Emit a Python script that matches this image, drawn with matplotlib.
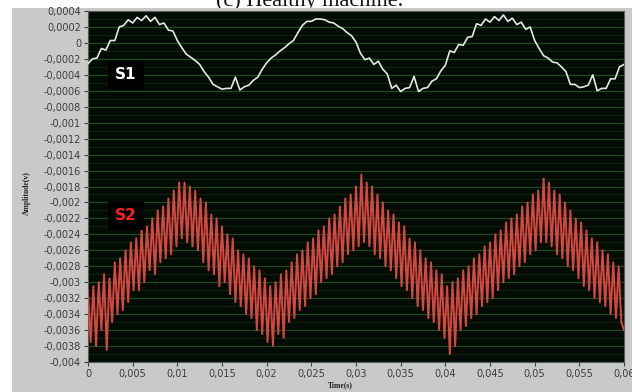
import numpy as np
import matplotlib
matplotlib.use("Agg")
import matplotlib.pyplot as plt
from matplotlib.patches import Rectangle
from matplotlib.ticker import FuncFormatter, FixedLocator

# sample spacing of the two traces (s)
s1_dt = 0.0005
s2_dt = 0.0003

# amplitudes in units of 0.1 mV
s1_values = [
    -2.6, -2.0, -1.9, -0.7, -0.9, 0.3, 0.3, 2.0, 2.2, 2.9,
    2.5, 3.2, 2.8, 3.4, 2.7, 3.2, 2.3, 2.5, 1.6, 1.5,
    0.3, -0.6, -1.4, -1.8, -2.2, -2.7, -3.6, -4.3, -5.2, -5.5,
    -5.8, -5.7, -5.7, -4.3, -5.9, -5.5, -5.3, -4.7, -4.3, -3.3,
    -2.5, -1.9, -1.5, -1.0, -0.6, -0.1, 0.3, 1.3, 2.2, 2.7,
    2.7, 3.0, 3.0, 2.9, 2.6, 2.5, 2.1, 1.8, 1.3, 0.9,
    0.1, -1.3, -2.1, -1.9, -2.7, -2.3, -3.3, -3.9, -5.7, -5.3,
    -6.1, -5.7, -5.6, -4.2, -6.1, -5.7, -5.6, -4.8, -4.5, -3.5,
    -2.8, -1.0, -1.2, -0.2, -0.3, 0.7, 0.8, 2.4, 2.2, 3.0,
    2.6, 3.3, 2.8, 3.5, 2.7, 3.1, 2.3, 2.6, 1.7, 2.0,
    0.3, -0.7, -1.6, -1.9, -2.4, -2.5, -3.0, -3.6, -5.2, -5.2,
    -5.6, -5.5, -5.3, -4.0, -6.0, -5.7, -5.7, -4.5, -4.5, -3.0,
    -2.7,
]

s2_values = [
    -31, -37.5, -30.5, -38, -30, -36, -29, -38.5, -29.5, -35,
    -27.5, -34, -27, -33.5, -26, -32.5, -25, -31, -24.5, -31,
    -23.5, -30, -23, -28.5, -22, -29, -21, -27.5, -20.5, -27,
    -19.5, -26.5, -18.5, -25.5, -17.5, -24.5, -17.5, -25, -18, -25.5,
    -18.5, -26, -19.5, -27.5, -20, -28.5, -21.5, -29, -22, -30.5,
    -23, -30, -24, -31.5, -24.5, -32.5, -26, -33, -26.5, -34,
    -27, -34.5, -28, -36, -28.5, -36.5, -29.5, -37.5, -30.5, -38,
    -30, -36.5, -29, -37, -28.5, -35, -27.5, -34.5, -26.5, -33.5,
    -26, -33, -25, -32, -24.5, -31.5, -23.5, -30, -23, -29.5,
    -22, -29, -21.5, -28, -20.5, -27.5, -19.5, -26.5, -19, -26,
    -18, -25.5, -16.5, -25, -17.5, -25.5, -18, -26.5, -19, -27,
    -20, -28, -21, -28.5, -21.5, -29.5, -22.5, -30.5, -23, -31,
    -24.5, -32, -25, -33, -26, -33.5, -27, -34.5, -27.5, -35,
    -28.5, -36, -29, -37, -30.5, -39, -30, -38, -29.5, -36,
    -28.5, -35.5, -28, -34.5, -27, -34, -26.5, -33, -25.5, -32.5,
    -25, -32, -24, -31, -23.5, -30, -22.5, -29.5, -22, -29,
    -21.5, -28, -20.5, -27.5, -20, -26.5, -19, -26, -18.5, -25,
    -17, -25, -17.5, -25.5, -18.5, -26.5, -19, -27, -20, -28,
    -21, -28.5, -22, -29.5, -22.5, -30.5, -23.5, -31, -24.5, -32,
    -25, -32.5, -26, -33, -26.5, -34, -27.5, -34.5, -28, -35,
    -36,
]

x_ticks = [0, 0.005, 0.01, 0.015, 0.02, 0.025, 0.03, 0.035, 0.04, 0.045, 0.05, 0.055, 0.06]
y_ticks = [round(-0.004 + 0.0002 * i, 4) for i in range(23)]


def comma(v, pos=None):
    s = f"{v:.4f}".rstrip("0").rstrip(".")
    if s in ("-0", ""):
        s = "0"
    return s.replace(".", ",")


def main():
    fig = plt.figure(figsize=(6.32, 3.92), dpi=100)
    fig.patch.set_facecolor("white")

    # grey front panel behind the graph
    fig.patches.append(Rectangle((12 / 632, 0), 1, 1 - 8 / 392, transform=fig.transFigure,
                                 facecolor="#c9c9c9", edgecolor="none", zorder=-10))
    fig.text(0.49, 1 - 6 / 392, "(c) Healthy machine.", ha="center", va="baseline",
             fontsize=16, family="Liberation Serif", color="#111111", zorder=-20)

    ax = fig.add_axes([88 / 632, 30 / 392, 536 / 632, 351 / 392])
    ax.set_facecolor("#030c04")

    t1 = np.arange(len(s1_values)) * s1_dt
    t2 = np.arange(len(s2_values)) * s2_dt
    ax.plot(t1, np.array(s1_values) * 1e-4, color="#e6e6e6", lw=1.2, zorder=3)
    ax.plot(t2, np.array(s2_values) * 1e-4, color="#d6473f", lw=1.4, zorder=3)

    ax.set_xlim(0, 0.06)
    ax.set_ylim(-0.004, 0.0004)

    ax.xaxis.set_major_locator(FixedLocator(x_ticks))
    ax.yaxis.set_major_locator(FixedLocator(y_ticks))
    ax.yaxis.set_minor_locator(FixedLocator([-0.0039 + 0.0002 * i for i in range(22)]))
    ax.xaxis.set_major_formatter(FuncFormatter(comma))
    ax.yaxis.set_major_formatter(FuncFormatter(comma))

    ax.grid(axis="y", which="major", color="#1b4a1e", lw=0.9)
    ax.grid(axis="y", which="minor", color="#0c230f", lw=0.8)
    ax.set_axisbelow(True)

    ax.tick_params(axis="both", which="major", labelsize=7, colors="#3c3c3c",
                   length=3, width=0.8, pad=2)
    ax.tick_params(axis="y", which="minor", length=0)
    for sp in ax.spines.values():
        sp.set_color("#5a5a5a")
        sp.set_linewidth(0.8)

    ax.set_xlabel("Time(s)", fontsize=5.5, family="Liberation Serif", fontweight="bold",
                  color="#222222")
    ax.set_ylabel("Amplitude(v)", fontsize=5.5, family="Liberation Serif", fontweight="bold",
                  color="#222222")
    ax.xaxis.set_label_coords(0.47, -0.055)
    ax.yaxis.set_label_coords(-0.107, 0.48)

    box = dict(boxstyle="square,pad=0.45", facecolor="black", edgecolor="none")
    ax.text(0.00425, -0.0004, "S1", color="white", fontsize=11, fontweight="bold",
            ha="center", va="center", bbox=box, zorder=5)
    ax.text(0.00425, -0.00216, "S2", color="#ff1f1f", fontsize=11, fontweight="bold",
            ha="center", va="center", bbox=box, zorder=5)

    fig.savefig("out.png", dpi=100)


if __name__ == "__main__":
    main()
